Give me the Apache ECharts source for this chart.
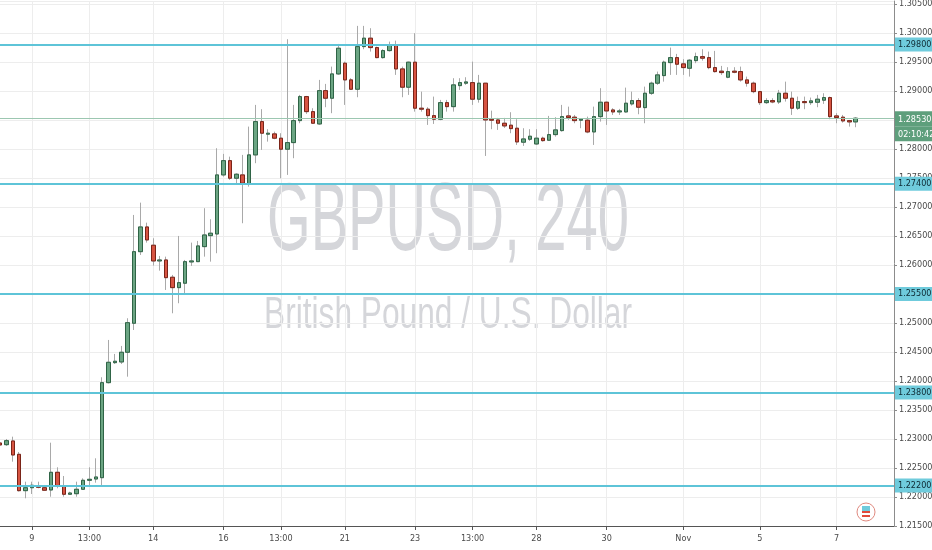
<!DOCTYPE html>
<html><head><meta charset="utf-8">
<script src="https://cdn.jsdelivr.net/npm/echarts@6/dist/echarts.min.js"></script>
<style>html,body{margin:0;padding:0;background:#fff}#c{width:932px;height:550px}</style>
</head><body><div id="c"></div>
<script>
const openP = [1.22931,1.22902,1.22966,1.22736,1.22109,1.22160,1.22195,1.22160,1.22121,1.22426,1.22195,1.22047,1.22057,1.22133,1.22288,1.22310,1.22333,1.23971,1.24316,1.24328,1.24495,1.24995,1.26229,1.26655,1.26340,1.26069,1.26086,1.25788,1.25609,1.25685,1.26052,1.26057,1.26316,1.26505,1.26534,1.27552,1.27798,1.27495,1.27552,1.27397,1.27897,1.28471,1.28254,1.28259,1.28185,1.27995,1.28109,1.28488,1.28902,1.28643,1.28431,1.29005,1.28874,1.29293,1.29478,1.29190,1.29029,1.29764,1.29909,1.29747,1.29574,1.29695,1.29793,1.29379,1.29064,1.29495,1.28702,1.28685,1.28574,1.28512,1.28798,1.28729,1.29091,1.29133,1.29143,1.28857,1.29133,1.28512,1.28500,1.28443,1.28409,1.28357,1.28116,1.28167,1.28086,1.28185,1.28150,1.28247,1.28316,1.28569,1.28547,1.28495,1.28495,1.28293,1.28557,1.28805,1.28672,1.28638,1.28638,1.28776,1.28833,1.28712,1.28960,1.29133,1.29264,1.29488,1.29574,1.29466,1.29391,1.29522,1.29591,1.29574,1.29402,1.29340,1.29236,1.29340,1.29333,1.29190,1.29133,1.28988,1.28798,1.28833,1.28810,1.28960,1.28874,1.28702,1.28816,1.28798,1.28805,1.28840,1.28885,1.28569,1.28547,1.28488,1.28466];
const closeP = [1.22897,1.22971,1.22724,1.22109,1.22160,1.22202,1.22167,1.22116,1.22426,1.22195,1.22047,1.22069,1.22133,1.22288,1.22305,1.22345,1.23971,1.24322,1.24340,1.24495,1.25005,1.26229,1.26655,1.26431,1.26069,1.26086,1.25781,1.25609,1.25695,1.26057,1.26069,1.26328,1.26517,1.26547,1.27552,1.27798,1.27495,1.27564,1.27409,1.27897,1.28471,1.28271,1.28271,1.28185,1.27995,1.28109,1.28488,1.28902,1.28643,1.28443,1.29005,1.28874,1.29293,1.29736,1.29190,1.29029,1.29764,1.29909,1.29747,1.29574,1.29695,1.29793,1.29379,1.29064,1.29495,1.28702,1.28685,1.28574,1.28512,1.28798,1.28729,1.29104,1.29143,1.29155,1.28857,1.29133,1.28500,1.28495,1.28443,1.28397,1.28350,1.28121,1.28172,1.28219,1.28185,1.28143,1.28247,1.28328,1.28557,1.28540,1.28488,1.28512,1.28293,1.28557,1.28805,1.28655,1.28638,1.28655,1.28788,1.28833,1.28719,1.28960,1.29133,1.29276,1.29495,1.29574,1.29460,1.29402,1.29529,1.29591,1.29564,1.29402,1.29333,1.29316,1.29333,1.29322,1.29190,1.29133,1.28988,1.28798,1.28833,1.28810,1.28960,1.28874,1.28702,1.28816,1.28798,1.28828,1.28857,1.28885,1.28557,1.28540,1.28483,1.28466,1.28530];
const lowP = [1.22862,1.22879,1.22609,1.22095,1.21978,1.22052,1.22150,1.22109,1.22005,1.22150,1.22005,1.22035,1.22005,1.22121,1.22178,1.22247,1.22207,1.23957,1.24293,1.24293,1.24074,1.24879,1.26172,1.26385,1.25988,1.25902,1.25569,1.25167,1.25340,1.25512,1.25983,1.26052,1.26143,1.26057,1.26202,1.27522,1.27466,1.27379,1.26719,1.27350,1.27754,1.27983,1.28126,1.28167,1.27495,1.27552,1.27840,1.28443,1.28604,1.28431,1.28414,1.28719,1.28616,1.29276,1.28759,1.29017,1.28891,1.29719,1.29678,1.29564,1.29557,1.29678,1.29276,1.28891,1.28931,1.28643,1.28643,1.28414,1.28431,1.28495,1.28643,1.28643,1.29017,1.29104,1.28759,1.28798,1.27879,1.28340,1.28328,1.28362,1.28271,1.28069,1.28052,1.28138,1.28069,1.28126,1.28138,1.28212,1.28298,1.28500,1.28443,1.28357,1.28271,1.28069,1.28471,1.28414,1.28586,1.28586,1.28626,1.28747,1.28598,1.28443,1.28931,1.29104,1.29160,1.29276,1.29276,1.29276,1.29247,1.29478,1.29522,1.29374,1.29316,1.29276,1.29219,1.29305,1.29160,1.29074,1.28960,1.28759,1.28776,1.28788,1.28776,1.28816,1.28586,1.28672,1.28685,1.28759,1.28719,1.28776,1.28512,1.28443,1.28453,1.28385,1.28374];
const highP = [1.22983,1.23000,1.23040,1.22776,1.22264,1.22264,1.22264,1.22207,1.22936,1.22512,1.22362,1.22091,1.22264,1.22322,1.22512,1.22667,1.24064,1.24707,1.24466,1.24604,1.25081,1.26862,1.27074,1.26729,1.26460,1.26155,1.26143,1.25828,1.26500,1.26086,1.26385,1.26414,1.26978,1.26788,1.28012,1.27914,1.27867,1.27581,1.27897,1.28385,1.28759,1.28685,1.28340,1.28298,1.28271,1.29891,1.28759,1.28931,1.28914,1.28702,1.29190,1.29121,1.29419,1.29810,1.29505,1.29219,1.30121,1.30121,1.30081,1.29764,1.29719,1.29850,1.29867,1.29419,1.29505,1.29995,1.28988,1.28719,1.28902,1.28845,1.28845,1.29219,1.29219,1.29236,1.29505,1.29276,1.29133,1.28660,1.28535,1.28535,1.28633,1.28512,1.28357,1.28340,1.28340,1.28212,1.28569,1.28547,1.28759,1.28729,1.28586,1.28522,1.28557,1.28729,1.29047,1.28816,1.28702,1.28690,1.29057,1.28988,1.28874,1.29074,1.29160,1.29333,1.29522,1.29747,1.29638,1.29547,1.29547,1.29660,1.29719,1.29678,1.29690,1.29431,1.29409,1.29409,1.29419,1.29247,1.29160,1.29000,1.28874,1.28874,1.29017,1.29160,1.28988,1.28902,1.28902,1.28885,1.28931,1.28960,1.28902,1.28616,1.28586,1.28500,1.28547];
const tickIdx = [5,14,24,35,44,54,65,74,84,95,107,119,131];
const tickText = ['9','13:00','14','16','13:00','21','23','13:00','28','30','Nov','5','7'];
const levels = [1.2980, 1.2740, 1.2550, 1.2380, 1.2220];
const lastPrice = 1.28530;
const countdown = '02:10:42';
const titleText = 'GBPUSD, 240';
const subText = 'British Pound / U.S. Dollar';
const slotCount = 141;

function hasFont(name){
  const c = document.createElement('canvas').getContext('2d');
  const s = '1.29800 GBPUSD Nov 13:00';
  c.font = '20px monospace'; const w1 = c.measureText(s).width;
  c.font = '20px "' + name + '", monospace'; const w2 = c.measureText(s).width;
  return Math.abs(w1 - w2) > 0.5;
}
const narrowList = ['Liberation Sans Narrow','DejaVu Sans Condensed','Roboto Condensed','Open Sans Condensed','Arial Narrow'];
let NARROW = 'Liberation Sans';
for (const f of narrowList) { if (hasFont(f)) { NARROW = f; break; } }
const FS = 9;

const categories = [];
for (let i = 0; i < slotCount; i++) {
  const k = tickIdx.indexOf(i);
  categories.push(k >= 0 ? tickText[k] : '');
}
const fullData = openP.map((o, i) => [o, closeP[i], lowP[i], highP[i]]);
const bodyData = openP.map((o, i) => [o, closeP[i], Math.min(o, closeP[i]), Math.max(o, closeP[i])]);
const showTick = (i) => tickIdx.indexOf(i) >= 0;

const chart = echarts.init(document.getElementById('c'), null, {renderer: 'canvas'});
const levelLines = levels.map(v => ({
  yAxis: v,
  lineStyle: {color: '#5ec4d8', width: 2, type: 'solid'},
  label: {show: true, position: 'end', distance: 1, formatter: v.toFixed(5),
    backgroundColor: '#6fcbdc', color: '#0e2a33', padding: [3, 3, 2, 3], fontSize: FS, fontFamily: NARROW}
}));
levelLines.push({
  yAxis: lastPrice,
  lineStyle: {color: '#9cc7b1', width: 1, type: 'solid'},
  label: {show: true, position: 'end', distance: 1,
    formatter: '{a|' + lastPrice.toFixed(5) + '}\n{b|' + countdown + '}',
    padding: [16, 0, 0, 0],
    rich: {
      a: {backgroundColor: '#5e9f7c', color: '#ffffff', fontSize: FS, fontFamily: NARROW, width: 33, height: 14, padding: [1, 2, 0, 3], align: 'left'},
      b: {backgroundColor: '#5e9f7c', color: '#ffffff', fontSize: FS, fontFamily: NARROW, width: 33, height: 14, padding: [1, 2, 0, 3], align: 'left'}
    }
  }
});

chart.setOption({
  animation: false,
  backgroundColor: '#ffffff',
  grid: {left: 0, right: 38, top: 1, bottom: 24, containLabel: false, outerBoundsMode: 'none'},
  xAxis: {
    type: 'category', data: categories, boundaryGap: false,
    axisLine: {show: true, lineStyle: {color: '#555555', width: 1}},
    axisTick: {show: true, length: 4, interval: showTick, lineStyle: {color: '#555555'}},
    axisLabel: {show: true, interval: showTick, color: '#4a4a4a', fontSize: FS, fontFamily: NARROW, margin: 8},
    splitLine: {show: true, interval: showTick, lineStyle: {color: '#ededed', width: 1}}
  },
  yAxis: {
    type: 'value', position: 'right', min: 1.215, max: 1.3055, interval: 0.005, scale: true,
    axisLine: {show: true, lineStyle: {color: '#8c8c8c', width: 1}},
    axisTick: {show: true, length: 3, lineStyle: {color: '#8c8c8c'}},
    axisLabel: {show: true, color: '#4a4a4a', fontSize: FS, fontFamily: NARROW, margin: 5,
      formatter: v => v.toFixed(5)},
    splitLine: {show: true, lineStyle: {color: '#ededed', width: 1}}
  },
  graphic: [
    {type: 'text', x: 448, y: 224, scaleX: 0.585, z: 0, silent: true,
      style: {text: titleText, fontSize: 96, fontFamily: 'Liberation Sans', fill: 'rgba(120,123,134,0.31)', align: 'center', verticalAlign: 'middle'}},
    {type: 'text', x: 448, y: 316, scaleX: 0.72, z: 0, silent: true,
      style: {text: subText, fontSize: 44, fontFamily: 'Liberation Sans', fill: 'rgba(120,123,134,0.31)', align: 'center', verticalAlign: 'middle'}},
    {type: 'group', x: 866, y: 512, children: [
      {type: 'circle', shape: {cx: 0, cy: 0, r: 9}, style: {fill: '#ffffff', stroke: '#e08a80', lineWidth: 1}},
      {type: 'rect', shape: {x: -4, y: -6, width: 8, height: 5}, style: {fill: '#6fcbdc'}},
      {type: 'rect', shape: {x: -4, y: -1, width: 8, height: 2}, style: {fill: '#e04a3a'}},
      {type: 'rect', shape: {x: -4, y: 3, width: 8, height: 2}, style: {fill: '#e04a3a'}}
    ]}
  ],
  series: [
    {
      name: 'wick', type: 'candlestick', data: fullData, barWidth: 4, z: 2,
      itemStyle: {color: 'rgba(0,0,0,0)', color0: 'rgba(0,0,0,0)', borderColor: '#a9a9a9', borderColor0: '#a9a9a9', borderWidth: 1}
    },
    {
      name: 'body', type: 'candlestick', data: bodyData, barWidth: 4, z: 3,
      itemStyle: {color: '#6ba583', color0: '#d75442', borderColor: '#2f6446', borderColor0: '#7a2418', borderWidth: 1},
      markLine: {symbol: 'none', silent: true, animation: false, precision: 5, data: levelLines}
    }
  ]
});
</script></body></html>
